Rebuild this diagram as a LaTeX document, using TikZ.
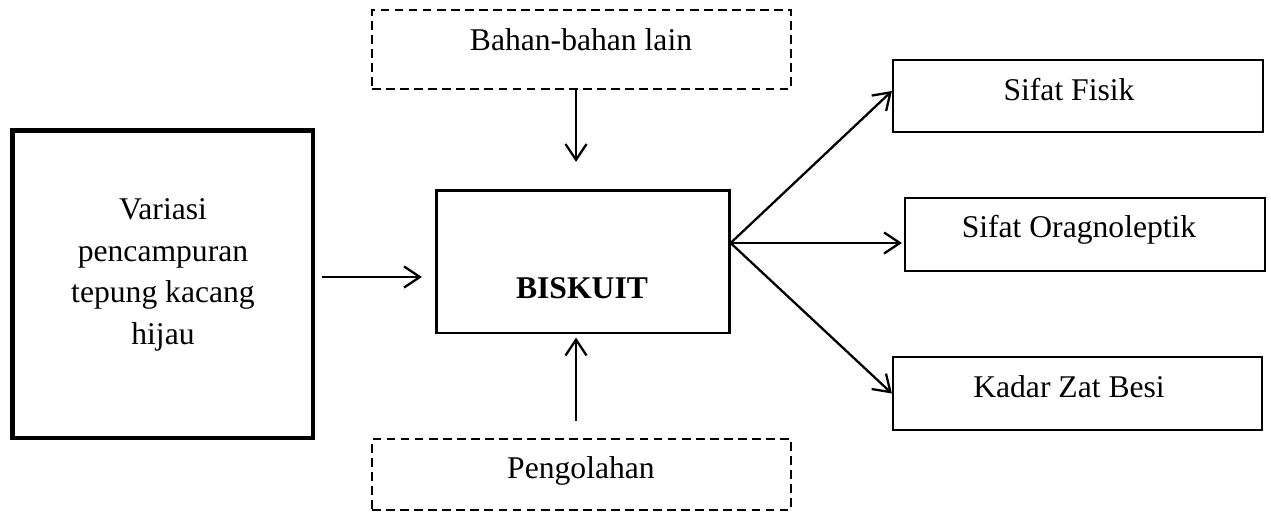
\documentclass[tikz,border=0pt]{standalone}
\usepackage{fontspec}
\setmainfont{Liberation Serif}
\usepackage{tikz}
\usetikzlibrary{arrows.meta,calc}
\tikzset{
	box/.style={
		% The shape:
		rectangle,inner sep=0pt,
		% The border:
		line width=1.3pt,
		draw=black,
	}}
\tikzset{
	dashbox/.style={
		% The shape:
		rectangle,inner sep=0pt,
		% The border:
		line width=1.2pt,
		draw=black,
		dash pattern=on 5pt off 3pt, % short dashes
	}}
\tikzset{
	txt/.style={
		font=\fontsize{18}{23.6}\selectfont,
		inner sep=0pt,
	}}
\tikzset{
	arr/.style={
		-{Straight Barb[length=9pt,width=12pt]},
		line width=1.3pt,
	}}

\begin{document}
\begin{tikzpicture}[x=0.02cm,y=-0.02cm]
	\useasboundingbox (0,0) rectangle (1271,511);
	% left input
	\node[box,line width=2.8pt,minimum width=6.01cm,minimum height=6.15cm] (mix) at (162.75,284.25) {};
	\node[txt,align=center] (mixt) at (163,275) {Variasi\\pencampuran\\tepung kacang\\hijau};
	% middle
	\node[box,minimum width=5.86cm,minimum height=2.85cm] (bis) at (583,261.75) {};
	\node[txt,anchor=base,font=\fontsize{18}{23.6}\selectfont\bfseries] (bist) at (582,298) {BISKUIT};
	\node[dashbox,minimum width=8.38cm,minimum height=1.58cm] (bahan) at (581.5,49.5) {};
	\node[txt,anchor=base] (bahant) at (581,50) {Bahan-bahan lain};
	\node[dashbox,minimum width=8.38cm,minimum height=1.42cm] (olah) at (581.5,474.5) {};
	\node[txt,anchor=base] (olaht) at (581,478) {Pengolahan};
	% outputs
	\node[box,minimum width=7.4cm,minimum height=1.44cm] (fisik) at (1078,96) {};
	\node[txt,anchor=base] (fisikt) at (1069,100.7) {Sifat Fisik};
	\node[box,minimum width=7.2cm,minimum height=1.46cm] (organo) at (1085,234.5) {};
	\node[txt,anchor=base] (organot) at (1079,237) {Sifat Oragnoleptik};
	\node[box,minimum width=7.38cm,minimum height=1.46cm] (besi) at (1077.5,393.5) {};
	\node[txt,anchor=base] (besit) at (1069,397) {Kadar Zat Besi};

	\draw[arr,shorten <=.13cm,shorten >=.27cm] ([yshift=.145cm]mix.east) coordinate (m1) -- (m1 -| bis.west);
	\draw[arr,shorten >=.55cm] ([xshift=-.11cm]bahan.south) coordinate (b1) -- (b1 |- bis.north);
	\draw[arr,shorten <=.34cm,shorten >=.07cm] ([xshift=-.11cm]olah.north) coordinate (o1) -- (o1 |- bis.south);
	\coordinate (hub) at ([yshift=.375cm]bis.east);
	\draw[arr] (hub) -- ([yshift=.1cm]fisik.west);
	\draw[arr,shorten >=.04cm] (hub) -- (hub -| organo.west);
	\draw[arr] (hub) -- (besi.west);
\end{tikzpicture}
\end{document}
